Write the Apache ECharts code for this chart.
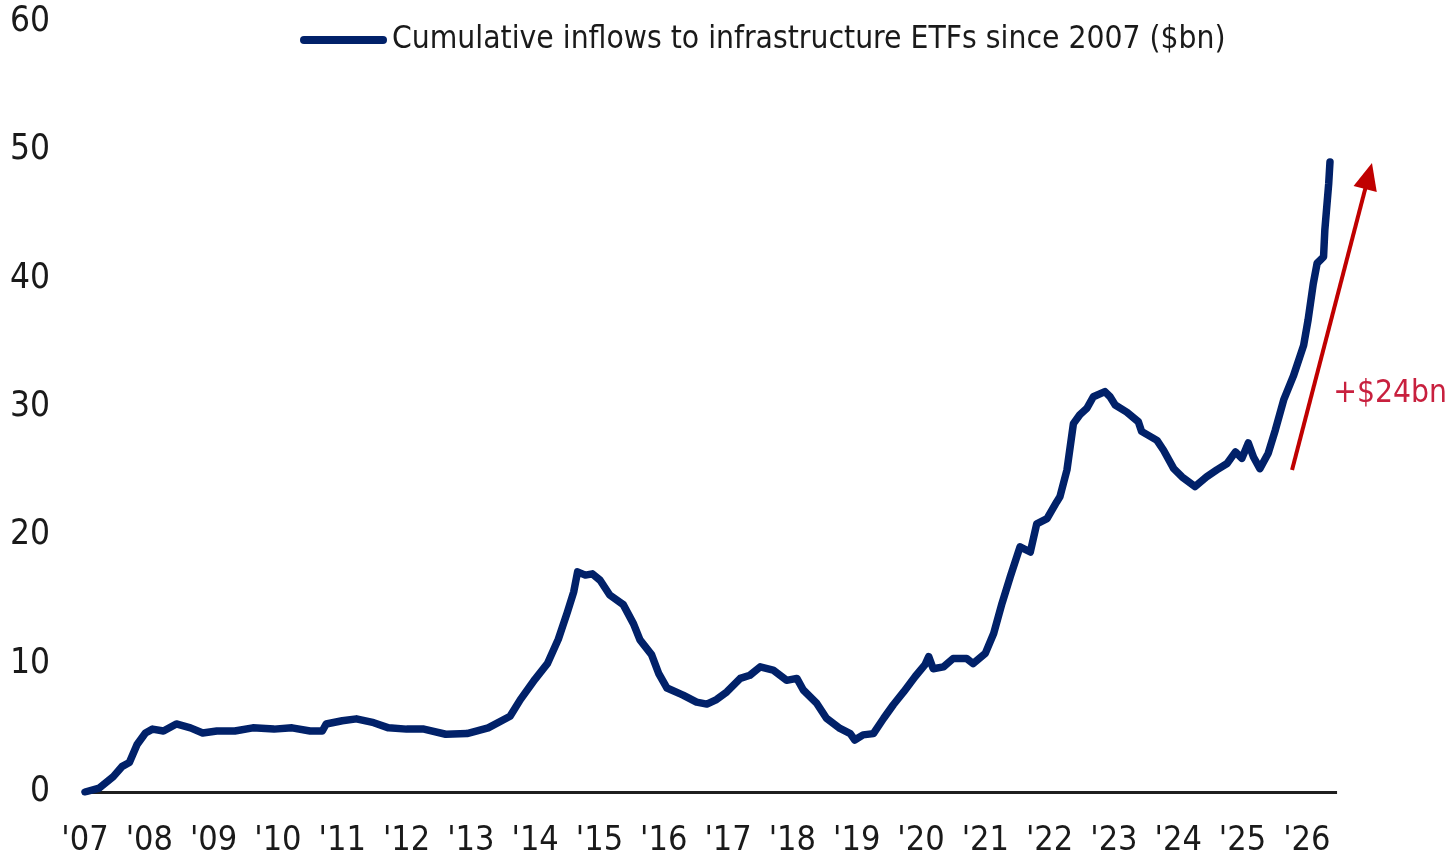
<!DOCTYPE html>
<html>
<head>
<meta charset="utf-8">
<title>Cumulative inflows to infrastructure ETFs</title>
<script src="https://cdn.jsdelivr.net/npm/echarts@6/dist/echarts.min.js"></script>
<style>
  html, body { margin: 0; padding: 0; background: #ffffff; }
  #chart { width: 1451px; height: 858px; }
</style>
</head>
<body>
<div id="chart"></div>
<script>
// Time axis in decimal years, cumulative inflows in $bn
const years = [
  2007.00, 2007.03, 2007.22, 2007.44, 2007.58, 2007.69, 2007.81, 2007.94, 2008.05, 2008.22,
  2008.42, 2008.64, 2008.83, 2009.05, 2009.33, 2009.61, 2009.94, 2010.22, 2010.50, 2010.69,
  2010.75, 2011.00, 2011.22, 2011.49, 2011.72, 2012.00, 2012.27, 2012.61, 2012.94, 2013.27,
  2013.61, 2013.77, 2014.00, 2014.19, 2014.36, 2014.50, 2014.60, 2014.66, 2014.78, 2014.89,
  2015.01, 2015.16, 2015.37, 2015.53, 2015.63, 2015.81, 2015.92, 2016.05, 2016.30, 2016.51,
  2016.67, 2016.82, 2016.98, 2017.19, 2017.34, 2017.50, 2017.70, 2017.91, 2018.07, 2018.17,
  2018.38, 2018.53, 2018.74, 2018.90, 2018.97, 2019.10, 2019.26, 2019.42, 2019.57, 2019.73,
  2019.91, 2020.06, 2020.12, 2020.19, 2020.35, 2020.50, 2020.71, 2020.81, 2021.00, 2021.13,
  2021.26, 2021.39, 2021.54, 2021.70, 2021.80, 2021.96, 2022.11, 2022.16, 2022.27, 2022.37,
  2022.47, 2022.58, 2022.68, 2022.86, 2022.94, 2023.02, 2023.20, 2023.38, 2023.43, 2023.67,
  2023.77, 2023.93, 2024.06, 2024.26, 2024.44, 2024.60, 2024.76, 2024.89, 2024.99, 2025.09,
  2025.17, 2025.27, 2025.40, 2025.51, 2025.64, 2025.79, 2025.95, 2026.02, 2026.10, 2026.16,
  2026.26, 2026.28, 2026.34, 2026.36
];
const inflows = [
  0.0, 0.0, 0.3, 1.2, 2.0, 2.3, 3.7, 4.6, 4.9, 4.75,
  5.3, 5.0, 4.6, 4.75, 4.75, 5.0, 4.9, 5.0, 4.75, 4.75,
  5.3, 5.55, 5.7, 5.4, 5.0, 4.9, 4.9, 4.5, 4.55, 5.0,
  5.9, 7.2, 8.8, 10.0, 11.9, 14.0, 15.6, 17.15, 16.9, 17.0,
  16.5, 15.35, 14.6, 13.1, 11.85, 10.7, 9.25, 8.1, 7.55, 7.0,
  6.85, 7.2, 7.8, 8.85, 9.1, 9.75, 9.5, 8.7, 8.85, 7.95,
  6.9, 5.75, 4.95, 4.55, 4.05, 4.45, 4.55, 5.75, 6.8, 7.8,
  9.0, 9.9, 10.55, 9.6, 9.75, 10.4, 10.4, 10.0, 10.8, 12.35,
  14.7, 16.8, 19.1, 18.7, 20.9, 21.3, 22.6, 23.0, 25.1, 28.7,
  29.4, 29.9, 30.8, 31.2, 30.8, 30.15, 29.6, 28.85, 28.1, 27.4,
  26.65, 25.2, 24.55, 23.8, 24.55, 25.1, 25.6, 26.5, 26.0, 27.2,
  26.1, 25.2, 26.4, 28.2, 30.55, 32.4, 34.8, 36.8, 39.6, 41.2,
  41.7, 43.8, 47.4, 49.1
];
const yTicks = [0, 10, 20, 30, 40, 50, 60];
const seriesName = 'Cumulative inflows to infrastructure ETFs since 2007 ($bn)';
// Rise since the start of the latest leg, drawn as an arrow
const arrowFrom = [2025.77, 25.1];
const arrowTo = [2026.96, 48.0];
const arrowLabel = '+$24bn';
const arrowLabelAt = [2026.41, 31.0];
// Extent of the zero baseline
const baseFrom = [2007, 0];
const baseTo = [2026.47, 0];

const FONT = '"Liberation Sans Narrow", "DejaVu Sans Condensed", "Roboto", sans-serif';
const NAVY = '#012169';

const chart = echarts.init(document.getElementById('chart'), null, { renderer: 'canvas' });

const lineData = years.map((y, i) => [y, inflows[i]]);

chart.setOption({
  backgroundColor: '#ffffff',
  animation: false,
  textStyle: { fontFamily: FONT },
  grid: {
    left: 85,
    right: 67,
    top: 22,
    bottom: 66,
    containLabel: false,
    outerBoundsMode: 'none'
  },
  legend: {
    data: [seriesName],
    left: 300,
    top: 24,
    padding: 0,
    itemWidth: 87,
    itemHeight: 8,
    icon: 'path://M4,0 L83,0 A4,4 0 0 1 83,8 L4,8 A4,4 0 0 1 4,0 Z',
    itemStyle: { color: NAVY },
    textStyle: { fontFamily: FONT, fontSize: 31.5, color: '#1a1a1a' }
  },
  xAxis: {
    type: 'value',
    min: 2007,
    max: 2027.2,
    interval: 1,
    axisLine: { show: false },
    axisTick: { show: false },
    splitLine: { show: false },
    axisLabel: {
      margin: 32,
      fontFamily: FONT,
      fontSize: 34,
      color: '#1a1a1a',
      showMaxLabel: false,
      formatter: function (v) {
        if (Math.abs(v - Math.round(v)) > 1e-6 || v > 2026) return '';
        return "'" + String(Math.round(v) % 100).padStart(2, '0');
      }
    }
  },
  yAxis: {
    type: 'value',
    min: yTicks[0],
    max: yTicks[yTicks.length - 1],
    interval: 10,
    axisLine: { show: false },
    axisTick: { show: false },
    splitLine: { show: false },
    axisLabel: {
      margin: 35,
      fontFamily: FONT,
      fontSize: 35,
      color: '#1a1a1a'
    }
  },
  series: [
    {
      // zero baseline and annotation arrow
      type: 'line',
      name: 'annotation',
      data: [],
      silent: true,
      z: 1,
      markLine: {
        silent: true,
        animation: false,
        z: 1,
        label: { show: false },
        emphasis: { disabled: true },
        data: [
          [
            { coord: baseFrom, symbol: 'none', lineStyle: { color: '#1f1f1f', width: 3, type: 'solid' } },
            { coord: baseTo, symbol: 'none' }
          ],
          [
            { coord: arrowFrom, symbol: 'none', lineStyle: { color: '#c00000', width: 4, type: 'solid' } },
            { coord: arrowTo, symbol: 'triangle', symbolSize: [24, 27] }
          ]
        ],
        symbol: ['none', 'none']
      },
      markPoint: {
        silent: true,
        animation: false,
        symbol: 'circle',
        symbolSize: 0,
        data: [{ coord: arrowLabelAt, value: arrowLabel }],
        label: {
          show: true,
          position: 'right',
          distance: 0,
          formatter: arrowLabel,
          fontFamily: FONT,
          fontSize: 31.5,
          color: '#c8203e'
        }
      }
    },
    {
      type: 'line',
      name: seriesName,
      data: lineData,
      showSymbol: false,
      symbol: 'none',
      color: NAVY,
      z: 3,
      lineStyle: { color: NAVY, width: 7.5, cap: 'round', join: 'round' },
      itemStyle: { color: NAVY }
    }
  ]
});
</script>
</body>
</html>
